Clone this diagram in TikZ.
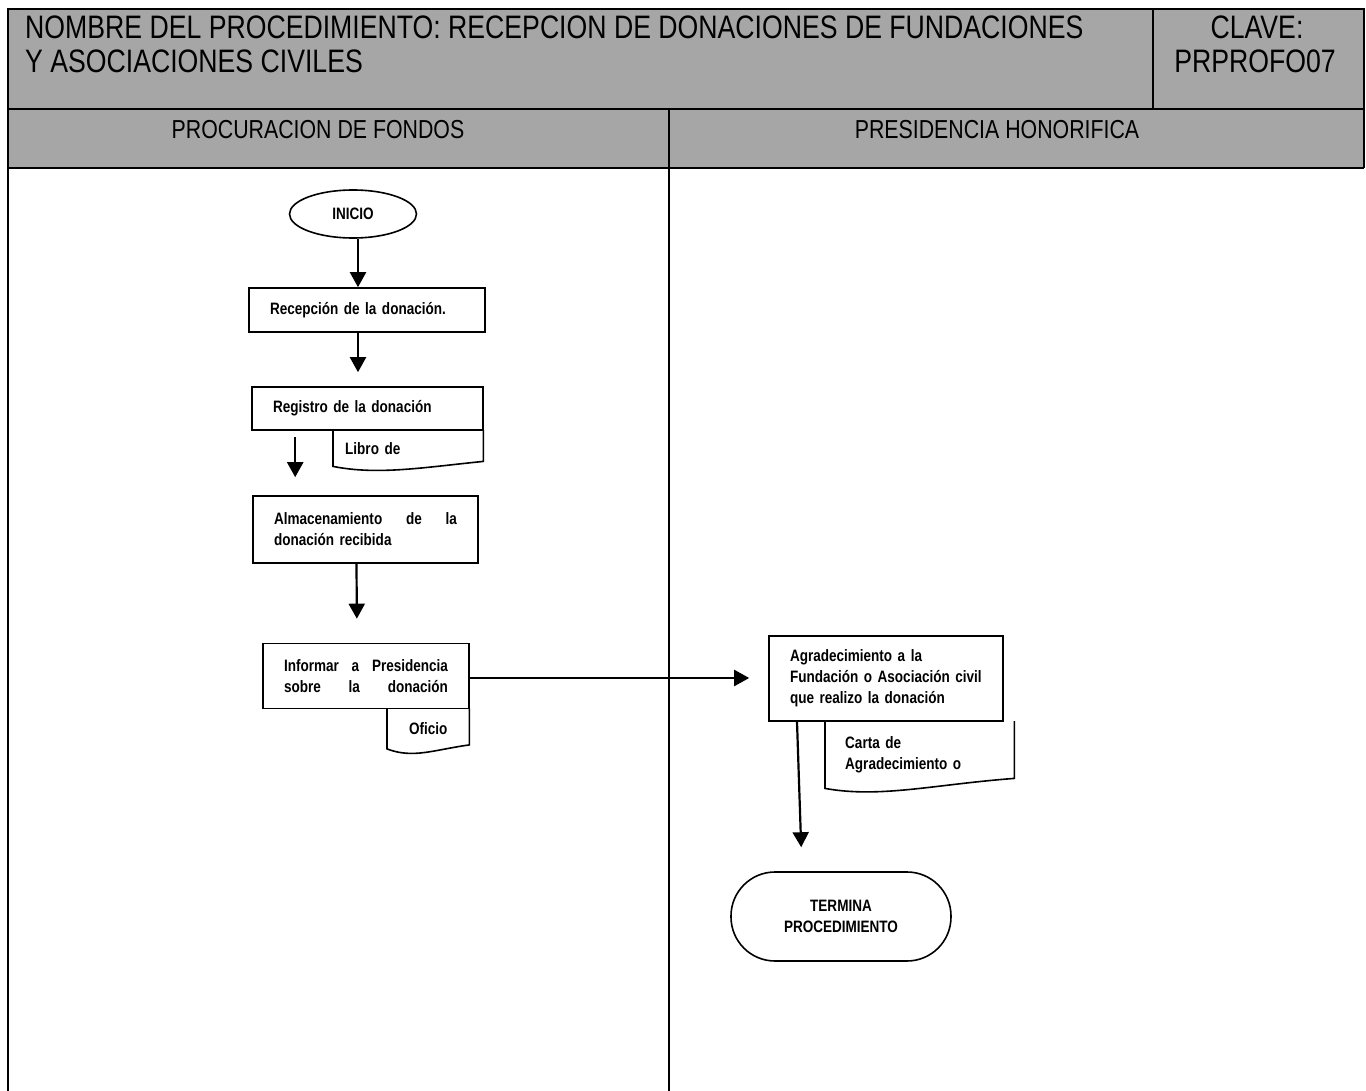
\documentclass[tikz,border=0pt]{standalone}
\usepackage{fontspec}
\setmainfont{Liberation Sans}
\newfontfamily\narrowsans[FakeStretch=0.82]{Liberation Sans}
\usetikzlibrary{arrows.meta,shapes.geometric,calc}
\definecolor{headgray}{HTML}{A6A6A6}
\begin{document}
\begin{tikzpicture}[x=1pt,y=-1pt,
  frame/.style={line width=2.2pt},
  headtext/.style={font=\narrowsans\fontsize{32.5}{36}\selectfont, inner sep=0pt},
  lanetext/.style={font=\narrowsans\fontsize{26}{30}\selectfont, inner sep=0pt},
  flowfont/.style={font=\narrowsans\bfseries\fontsize{16.5}{21}\selectfont},
  procbox/.style={flowfont, draw, line width=1.6pt, rectangle,
    inner xsep=21pt, inner ysep=0pt, align=left},
  docbox/.style={flowfont, rectangle, inner ysep=0pt, align=left},
  docline/.style={line width=1.6pt},
  flow/.style={line width=2.2pt, -{Triangle[length=15pt,width=16pt]}}
]
\useasboundingbox (0,0) rectangle (1366,1091);

% ---------- header band ----------
\fill[headgray] (8,9) rectangle (1364,168);
\draw[frame] (8,1091) -- (8,9) -- (1364,9) -- (1364,168);
\draw[frame] (8,109) -- (1364,109);
\draw[frame] (8,168) -- (1364,168);
\draw[frame] (1153,9) -- (1153,109);
\draw[frame] (669,109) -- (669,1091);

\node[headtext, anchor=base west] (title1) at (25,39)
  {NOMBRE DEL PROCEDIMIENTO: RECEPCION DE DONACIONES DE FUNDACIONES};
\node[headtext, anchor=base west] (title2) at (25,73) {Y ASOCIACIONES CIVILES};
\node[headtext, anchor=base] (clave1) at (1257,39) {CLAVE:};
\node[headtext, anchor=base] (clave2) at (1255,73) {PRPROFO07};

\node[lanetext, anchor=base] (lane1) at (318,139) {PROCURACION DE FONDOS};
\node[lanetext, anchor=base] (lane2) at (997,139) {PRESIDENCIA HONORIFICA};

% ---------- left lane ----------
\node[flowfont, draw, line width=1.6pt, ellipse, inner sep=0pt,
  minimum width=127pt, minimum height=48pt] (inicio) at (353,214) {INICIO};

\node[procbox, text width=194pt, minimum height=44pt] (recep) at (367,310)
  {Recepción de la donación.};

\node[procbox, text width=189pt, minimum height=43pt] (registro) at (367.5,408.5)
  {Registro de la donación};

\node[docbox, inner xsep=12pt, text width=126pt, minimum height=36pt,
  anchor=north west] (libro) at (333,430) {Libro de};

\node[procbox, text width=183pt, minimum height=67pt] (almacen) at (365.5,529.5)
  {Almacenamiento\hfill de\hfill la\\donación recibida};

\node[procbox, text width=164pt, minimum height=65pt] (informar) at (366,676)
  {Informar\hfill a\hfill Presidencia\\sobre\hfill la\hfill donación};

\node[docbox, inner xsep=0pt, text width=82pt, align=center, minimum height=40pt,
  anchor=north west] (oficio) at (387,708.5) {Oficio};

% ---------- right lane ----------
\node[procbox, text width=192pt, minimum height=85pt] (agrad) at (886,678.5)
  {Agradecimiento a la\\Fundación o Asociación civil\\que realizo la donación};

\node[docbox, inner xsep=20pt, text width=149pt, minimum height=67pt,
  anchor=north west] (carta) at (825,721) {Carta de\\Agradecimiento o};

\node[flowfont, draw, line width=1.6pt, rectangle, rounded corners=44pt,
  minimum width=220pt, minimum height=89pt, align=center] (termina) at (841,916.5)
  {TERMINA\\PROCEDIMIENTO};

% ---------- document outlines (wavy lower edge) ----------
\draw[docline] (libro.north west) -- (libro.south west)
  .. controls +(45,9) and +(-60,6) .. ([yshift=5pt]libro.south east)
  -- (libro.north east);
\draw[docline] (oficio.north west) -- (oficio.south west)
  .. controls +(26,10) and +(-36,5) .. ([yshift=4pt]oficio.south east)
  -- (oficio.north east);
\draw[docline] (carta.north west) -- (carta.south west)
  .. controls +(55,10) and +(-80,6) .. ([yshift=10pt]carta.south east)
  -- (carta.north east);

% ---------- connectors ----------
\draw[flow] ([xshift=5pt]inicio.south) -- ([xshift=-9pt]recep.north);
\draw[flow, shorten >=14pt] ([xshift=-9pt]recep.south) -- ([xshift=-9.5pt]registro.north);
\draw[flow, shorten <=6pt, shorten >=18pt] ([xshift=44pt]registro.south west)
  -- ([xshift=43pt]almacen.north west);
\draw[flow, shorten >=24pt] ([xshift=-9pt]almacen.south) -- ([xshift=-9pt]informar.north);
\draw[flow, shorten >=19pt] ([yshift=-2pt]informar.east) -- ([yshift=-2pt]informar.east -| agrad.west);
\draw[flow, shorten >=24pt] ([xshift=-89pt]agrad.south) -- ([xshift=-39pt]termina.north);

\end{tikzpicture}
\end{document}
